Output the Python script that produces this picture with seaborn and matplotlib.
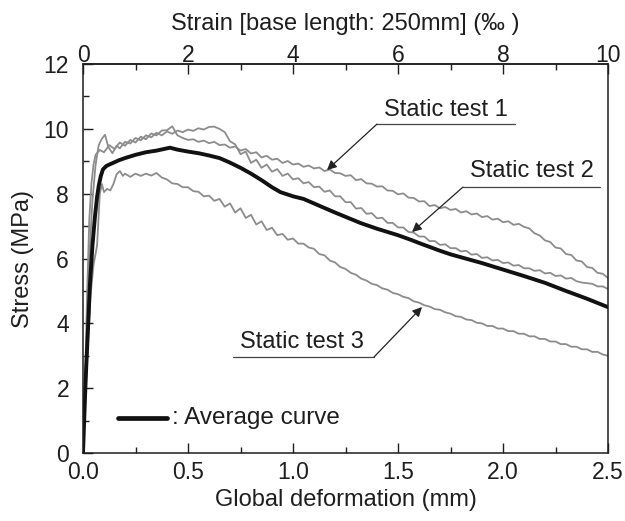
import numpy as np
import pandas as pd
import matplotlib
matplotlib.use("Agg")
import matplotlib.pyplot as plt
import seaborn as sns

# ---------------- data ----------------
t1_x = [0.000, 0.010, 0.020, 0.030, 0.040, 0.050, 0.060, 0.080,
        0.100, 0.125, 0.150, 0.175, 0.200, 0.225, 0.250, 0.275, 0.300, 0.325,
        0.350, 0.375, 0.400, 0.425, 0.450, 0.475, 0.500, 0.525, 0.550, 0.575,
        0.600, 0.625, 0.650, 0.675, 0.700, 0.725, 0.750, 0.775, 0.800, 0.825,
        0.850, 0.875, 0.900, 0.925, 0.950, 0.975, 1.000, 1.025, 1.050, 1.075,
        1.100, 1.125, 1.150, 1.175, 1.200, 1.225, 1.250, 1.275, 1.300, 1.325,
        1.350, 1.375, 1.400, 1.425, 1.450, 1.475, 1.500, 1.525, 1.550, 1.575,
        1.600, 1.625, 1.650, 1.675, 1.700, 1.725, 1.750, 1.775, 1.800, 1.825,
        1.850, 1.875, 1.900, 1.925, 1.950, 1.975, 2.000, 2.025, 2.050, 2.075,
        2.100, 2.125, 2.150, 2.175, 2.200, 2.225, 2.250, 2.275, 2.300, 2.325,
        2.350, 2.375, 2.400, 2.425, 2.450, 2.475, 2.500]
t1_y = [0.00, 2.20, 5.00, 7.20, 8.30, 8.90, 9.20, 9.35,
        9.28, 9.50, 9.38, 9.58, 9.48, 9.66, 9.58, 9.76, 9.68, 9.86,
        9.80, 9.95, 9.96, 10.08, 9.80, 9.72, 9.66, 9.68, 9.60, 9.64,
        9.56, 9.60, 9.50, 9.52, 9.42, 9.46, 9.33, 9.38, 9.24, 9.28,
        9.12, 9.17, 9.05, 9.08, 8.95, 9.01, 8.90, 8.93, 8.83, 8.87,
        8.78, 8.81, 8.70, 8.75, 8.64, 8.63, 8.55, 8.57, 8.42, 8.45,
        8.32, 8.31, 8.22, 8.23, 8.10, 8.09, 7.98, 8.01, 7.88, 7.87,
        7.76, 7.77, 7.62, 7.65, 7.55, 7.59, 7.50, 7.53, 7.42, 7.46,
        7.36, 7.39, 7.28, 7.31, 7.20, 7.23, 7.12, 7.15, 7.04, 7.07,
        6.98, 6.93, 6.78, 6.71, 6.56, 6.51, 6.34, 6.31, 6.14, 6.11,
        5.94, 5.91, 5.74, 5.71, 5.56, 5.53, 5.40]

t2_x = [0.000, 0.010, 0.020, 0.030, 0.045, 0.060, 0.075, 0.090, 0.105, 0.120,
        0.140, 0.160, 0.175, 0.200, 0.225, 0.250, 0.275, 0.300, 0.325, 0.350,
        0.375, 0.400, 0.425, 0.450, 0.475, 0.500, 0.525, 0.550, 0.575, 0.600,
        0.625, 0.650, 0.675, 0.700, 0.725, 0.750, 0.775, 0.800, 0.825, 0.850,
        0.875, 0.900, 0.925, 0.950, 0.975, 1.000, 1.025, 1.050, 1.075, 1.100,
        1.125, 1.150, 1.175, 1.200, 1.225, 1.250, 1.275, 1.300, 1.325, 1.350,
        1.375, 1.400, 1.425, 1.450, 1.475, 1.500, 1.525, 1.550, 1.575, 1.600,
        1.625, 1.650, 1.675, 1.700, 1.725, 1.750, 1.775, 1.800, 1.825, 1.850,
        1.875, 1.900, 1.925, 1.950, 1.975, 2.000, 2.025, 2.050, 2.075, 2.100,
        2.125, 2.150, 2.175, 2.200, 2.225, 2.250, 2.275, 2.300, 2.325, 2.350,
        2.375, 2.400, 2.425, 2.450, 2.475, 2.500]
t2_y = [0.00, 1.80, 4.00, 6.00, 7.80, 8.90, 9.50, 9.70, 9.82, 9.45,
        9.25, 9.48, 9.40, 9.60, 9.55, 9.72, 9.65, 9.80, 9.74, 9.88,
        9.80, 9.92, 9.85, 9.95, 9.90, 9.98, 9.94, 10.02, 9.98, 10.06,
        10.07, 10.00, 9.90, 9.62, 9.52, 9.22, 9.30, 8.95, 9.05, 8.80,
        8.90, 8.68, 8.76, 8.55, 8.62, 8.44, 8.48, 8.32, 8.36, 8.20,
        8.22, 8.06, 8.10, 7.92, 7.92, 7.74, 7.74, 7.54, 7.56, 7.38,
        7.40, 7.24, 7.26, 7.10, 7.10, 6.96, 6.96, 6.82, 6.80, 6.68,
        6.68, 6.54, 6.54, 6.42, 6.44, 6.32, 6.32, 6.22, 6.24, 6.12,
        6.14, 6.02, 6.04, 5.94, 5.96, 5.86, 5.88, 5.78, 5.80, 5.70,
        5.70, 5.62, 5.64, 5.54, 5.56, 5.46, 5.48, 5.38, 5.40, 5.30,
        5.26, 5.24, 5.22, 5.14, 5.14, 5.06]

t3_x = [0.000, 0.010, 0.020, 0.035, 0.050, 0.067, 0.080, 0.090, 0.100, 0.115,
        0.130, 0.145, 0.160, 0.176, 0.190, 0.200, 0.225, 0.250, 0.275, 0.300,
        0.325, 0.350, 0.375, 0.400, 0.425, 0.450, 0.475, 0.500, 0.525, 0.550,
        0.575, 0.600, 0.625, 0.650, 0.675, 0.700, 0.725, 0.750, 0.775, 0.800,
        0.825, 0.850, 0.875, 0.900, 0.925, 0.950, 0.975, 1.000, 1.025, 1.050,
        1.075, 1.100, 1.125, 1.150, 1.175, 1.200, 1.225, 1.250, 1.275, 1.300,
        1.325, 1.350, 1.375, 1.400, 1.425, 1.450, 1.475, 1.500, 1.525, 1.550,
        1.575, 1.600, 1.625, 1.650, 1.675, 1.700, 1.725, 1.750, 1.775, 1.800,
        1.825, 1.850, 1.875, 1.900, 1.925, 1.950, 1.975, 2.000, 2.025, 2.050,
        2.075, 2.100, 2.125, 2.150, 2.175, 2.200, 2.225, 2.250, 2.275, 2.300,
        2.325, 2.350, 2.375, 2.400, 2.425, 2.450, 2.475, 2.500]
t3_y = [0.00, 1.50, 3.00, 4.80, 5.80, 6.40, 8.00, 8.30, 8.05, 8.15,
        8.10, 8.30, 8.60, 8.70, 8.55, 8.62, 8.52, 8.62, 8.55, 8.62,
        8.56, 8.64, 8.50, 8.44, 8.32, 8.30, 8.20, 8.20, 8.08, 8.06,
        7.92, 7.94, 7.78, 7.84, 7.60, 7.70, 7.42, 7.55, 7.25, 7.35,
        7.05, 7.15, 6.88, 6.95, 6.72, 6.76, 6.58, 6.62, 6.46, 6.46,
        6.34, 6.30, 6.14, 6.10, 5.94, 5.88, 5.74, 5.68, 5.56, 5.50,
        5.38, 5.32, 5.22, 5.18, 5.08, 5.04, 4.94, 4.90, 4.82, 4.78,
        4.68, 4.64, 4.56, 4.52, 4.44, 4.42, 4.34, 4.30, 4.22, 4.20,
        4.12, 4.10, 4.02, 4.00, 3.92, 3.92, 3.84, 3.84, 3.76, 3.76,
        3.68, 3.68, 3.60, 3.60, 3.52, 3.52, 3.44, 3.44, 3.36, 3.36,
        3.28, 3.28, 3.20, 3.20, 3.12, 3.12, 3.04, 3.00]

avg_x = [0.000, 0.005, 0.010, 0.015, 0.020, 0.027, 0.033, 0.045, 0.057, 0.067,
         0.075, 0.085, 0.095, 0.110, 0.125, 0.143, 0.170, 0.200, 0.250, 0.300,
         0.350, 0.400, 0.414, 0.450, 0.500, 0.550, 0.600, 0.650, 0.700, 0.750,
         0.800, 0.850, 0.900, 0.940, 1.000, 1.050, 1.100, 1.200, 1.320, 1.400,
         1.500, 1.560, 1.600, 1.700, 1.750, 1.800, 1.900, 2.000, 2.100, 2.200,
         2.300, 2.400, 2.500]
avg_y = [0.00, 0.90, 1.80, 2.60, 3.30, 4.30, 5.20, 6.40, 7.30, 7.90,
         8.25, 8.55, 8.75, 8.85, 8.90, 8.95, 9.03, 9.10, 9.20, 9.28,
         9.33, 9.40, 9.42, 9.36, 9.30, 9.25, 9.18, 9.10, 8.96, 8.80,
         8.62, 8.42, 8.20, 8.05, 7.92, 7.84, 7.70, 7.42, 7.10, 6.92,
         6.72, 6.58, 6.48, 6.24, 6.13, 6.04, 5.86, 5.66, 5.46, 5.25,
         5.00, 4.76, 4.50]

test_labels = ["Static test 1", "Static test 2", "Static test 3"]
avg_label = ": Average curve"
xlabel = "Global deformation (mm)"
ylabel = "Stress (MPa)"
top_label = "Strain [base length: 250mm] (\u2030 )"
base_length_mm = 250.0

# ---------------- figure ----------------
sns.set_style("ticks")
plt.rcParams["font.family"] = ["Liberation Sans", "DejaVu Sans"]
plt.rcParams["font.size"] = 16

txt = "#1e1e1e"
gray = "#8c8c8c"
LBL = 17
TICK = 16.5

fig = plt.figure(figsize=(6.25, 5.21), dpi=100)
ax = fig.add_axes([0.1328, 0.1305, 0.8400, 0.7465])

frames = []
for name, xs, ys in [("t1", t1_x, t1_y), ("t2", t2_x, t2_y), ("t3", t3_x, t3_y)]:
    frames.append(pd.DataFrame({"x": xs, "y": ys, "s": name}))
df = pd.concat(frames, ignore_index=True)
sns.lineplot(data=df, x="x", y="y", units="s", estimator=None, sort=False,
             color=gray, lw=1.3, ax=ax, legend=False)
sns.lineplot(x=avg_x, y=avg_y, sort=False, estimator=None, color="#111111",
             lw=2.8, ax=ax, legend=False)

ax.set_xlim(0, 2.5)
ax.set_ylim(0, 12)
ax.set_xticks([0.0, 0.5, 1.0, 1.5, 2.0, 2.5])
ax.set_xticklabels(["0.0", "0.5", "1.0", "1.5", "2.0", "2.5"])
ax.set_xticks(np.arange(0.25, 2.5, 0.5), minor=True)
ax.set_yticks(np.arange(0, 13, 2))
ax.set_yticks(np.arange(1, 12, 2), minor=True)
ax.tick_params(axis="both", which="major", direction="in", length=7, width=1,
               colors=txt, labelsize=TICK)
ax.tick_params(axis="x", which="major", pad=6)
ax.tick_params(axis="y", which="major", pad=10)
ax.tick_params(axis="both", which="minor", direction="in", length=4, width=1,
               colors=txt)
ax.tick_params(axis="x", which="both", top=False)
for sp in ax.spines.values():
    sp.set_linewidth(1.1)
    sp.set_color(txt)
    sp.set_visible(True)

ax.set_xlabel(xlabel, fontsize=LBL, color=txt, labelpad=3)
ax.set_ylabel(ylabel, fontsize=LBL, color=txt, labelpad=7)

sec = ax.secondary_xaxis("top", functions=(lambda d: d / base_length_mm * 1000.0,
                                           lambda s: s * base_length_mm / 1000.0))
sec.set_xticks([0, 2, 4, 6, 8, 10])
sec.set_xticks([1, 3, 5, 7, 9], minor=True)
sec.tick_params(axis="x", which="major", direction="in", length=7, width=1,
                colors=txt, labelsize=TICK, pad=-2)
sec.tick_params(axis="x", which="minor", direction="in", length=4, width=1,
                colors=txt)
sec.set_xlabel(top_label, fontsize=LBL, color=txt, labelpad=10)
sec.spines["top"].set_linewidth(1.1)

# ---------------- annotations (pixel-based, data converted) ----------------
def px2data(px, py):
    X = (px - 83.0) / 525.0 * 2.5
    Y = (453.0 - py) / 389.0 * 12.0
    return X, Y

ann = [
    # text center, underline start, underline end, arrow tip
    (test_labels[0], (446, 110), (377, 124), (515, 124), (327, 170), True),
    (test_labels[1], (532, 171), (463, 187), (600, 187), (412, 232), True),
    (test_labels[2], (302, 342), (233, 357), (374, 357), (422, 307), False),
]
for label, tc, u0, u1, tip, left_knee in ann:
    ax.text(*px2data(*tc), label, ha="center", va="center", fontsize=LBL, color=txt)
    ax.plot(*zip(px2data(*u0), px2data(*u1)), color="#444444", lw=0.9)
    knee = u0 if left_knee else u1
    ax.annotate("", xy=px2data(*tip), xytext=px2data(*knee),
                arrowprops=dict(arrowstyle="-|>", color="#222222", lw=0.9,
                                mutation_scale=14, shrinkA=0, shrinkB=0))

# legend-like average curve marker
lx0, ly = px2data(118, 418)
lx1, _ = px2data(167, 418)
ax.plot([lx0, lx1], [ly, ly], color="#111111", lw=3.4, solid_capstyle="round")
ax.text(*px2data(172, 418), avg_label, ha="left", va="center", fontsize=17.5, color=txt)

fig.savefig("out.png", dpi=100)
